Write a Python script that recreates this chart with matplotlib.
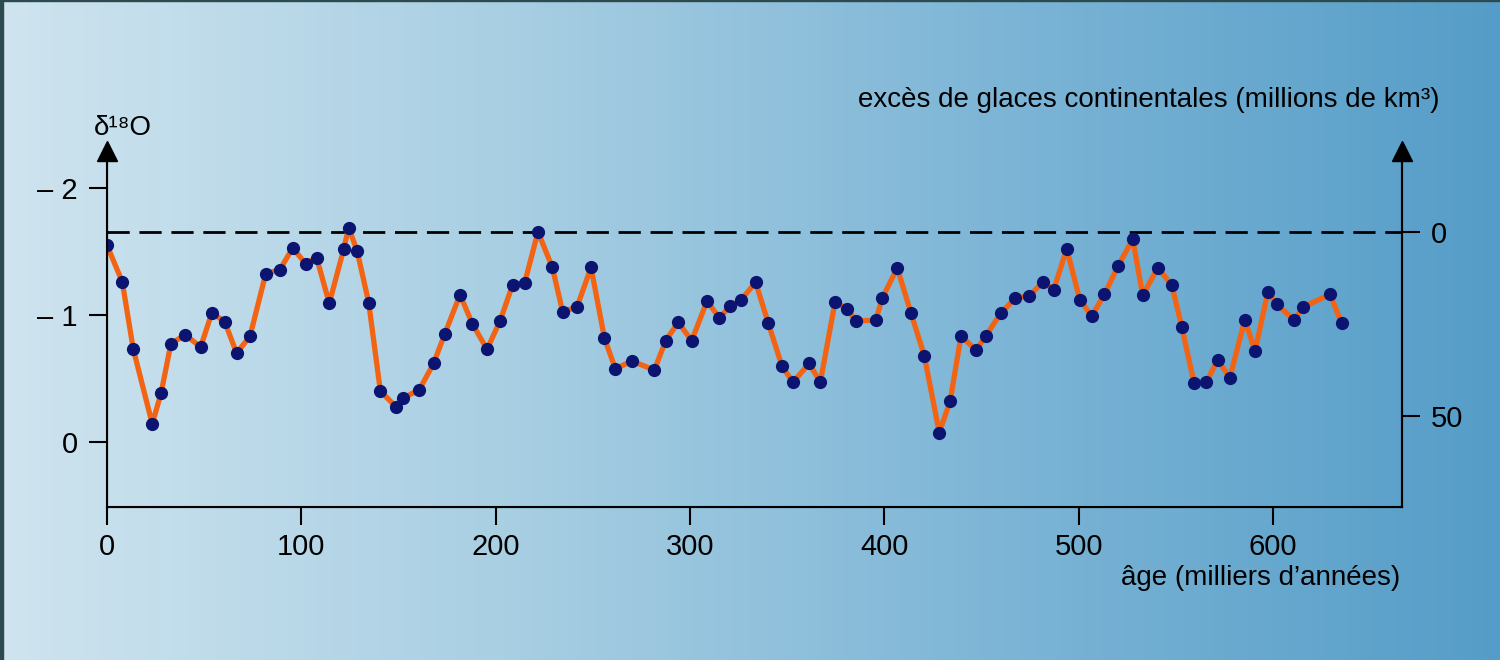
import numpy as np
import matplotlib.pyplot as plt
from matplotlib.colors import LinearSegmentedColormap

# age (thousands of years) and delta 18O values
age = [0, 7.9, 13.5, 23.3, 27.9, 32.9, 40.3, 48.2, 54.0, 60.6, 66.7, 73.6,
       81.7, 89.0, 95.6, 102.2, 107.9, 114.4, 121.8, 124.4, 128.8, 134.7,
       140.7, 148.9, 152.3, 160.7, 168.1, 173.8, 181.7, 188.0, 195.6, 202.3,
       208.8, 215.0, 221.8, 229.2, 234.5, 241.9, 249.1, 256.0, 261.6, 270.2,
       281.7, 287.5, 294.0, 300.9, 308.8, 315.2, 320.6, 326.1, 333.8, 340.3,
       347.4, 353.1, 361.3, 367.1, 374.7, 381.0, 385.3, 395.6, 399.0, 406.7,
       413.8, 420.6, 428.3, 433.9, 439.5, 447.2, 452.2, 459.9, 467.5, 474.7,
       481.7, 487.2, 493.9, 500.6, 506.8, 513.3, 520.3, 527.9, 533.0, 540.7,
       547.9, 553.1, 559.4, 565.8, 571.6, 577.8, 585.5, 590.8, 597.4, 601.9,
       610.9, 615.7, 629.4, 635.3]
d18o = [-1.55, -1.26, -0.735, -0.144, -0.388, -0.774, -0.845, -0.748, -1.018,
        -0.947, -0.701, -0.832, -1.325, -1.357, -1.528, -1.404, -1.451, -1.092,
        -1.517, -1.688, -1.501, -1.097, -0.402, -0.276, -0.346, -0.412, -0.619,
        -0.850, -1.160, -0.932, -0.730, -0.955, -1.239, -1.255, -1.654, -1.375,
        -1.026, -1.063, -1.375, -0.819, -0.577, -0.638, -0.567, -0.798, -0.942,
        -0.798, -1.110, -0.976, -1.071, -1.115, -1.257, -0.937, -0.596, -0.472,
        -0.619, -0.472, -1.105, -1.045, -0.955, -0.958, -1.134, -1.370, -1.013,
        -0.680, -0.076, -0.323, -0.835, -0.724, -0.835, -1.013, -1.134, -1.150,
        -1.262, -1.199, -1.522, -1.121, -0.992, -1.163, -1.386, -1.596, -1.155,
        -1.370, -1.239, -0.908, -0.467, -0.472, -0.648, -0.506, -0.961, -0.719,
        -1.181, -1.087, -0.961, -1.063, -1.163, -0.937]

ref_level = -1.654          # dashed line = 0 km3 of excess ice
ice_per_unit = 34.62        # km3 (millions) per unit of delta 18O

left_ticks = [-2, -1, 0]
left_labels = ['\u2013 2', '\u2013 1', '0']
right_ticks = [0, 50]
x_ticks = [0, 100, 200, 300, 400, 500, 600]

plt.rcParams['font.family'] = ['Liberation Sans Narrow', 'Liberation Sans', 'DejaVu Sans']
fs = 21
fs_text = 20

fig = plt.figure(figsize=(15, 6.6), dpi=100)

# background gradient
bg = fig.add_axes([0, 0, 1, 1], zorder=-10)
cmap = LinearSegmentedColormap.from_list('bg', ['#cfe4ef', '#a9cfe3', '#7db5d6', '#559dc8'])
bg.imshow(np.linspace(0, 1, 256).reshape(1, -1), cmap=cmap, aspect='auto', extent=[0, 1, 0, 1])
bg.axvspan(0, 0.002, color='#2d4a4f')
bg.axhspan(0.9985, 1, color='#2d4a4f')
bg.set_xlim(0, 1)
bg.set_ylim(0, 1)
bg.axis('off')

ax = fig.add_axes([0.0713, 0.2318, 0.8632, 0.5394])
ax.patch.set_alpha(0)
ymin, ymax = 0.51, -2.29
ax.set_xlim(0, 666.3)
ax.set_ylim(ymin, ymax)

ax.axhline(ref_level, color='black', lw=2, dashes=(8, 3.5), zorder=1)
ax.plot(age, d18o, color='#f26414', lw=3.8, zorder=2)
ax.plot(age, d18o, 'o', color='#0b1470', ms=8.5, zorder=3)

ax.spines['top'].set_visible(False)
for s in ['left', 'right', 'bottom']:
    ax.spines[s].set_linewidth(1.5)
ax.set_yticks(left_ticks)
ax.set_yticklabels(left_labels)
ax.set_xticks(x_ticks)
ax.tick_params(labelsize=fs, length=13, width=1.5, pad=6)
ax.tick_params(axis='y', pad=8)

ax2 = ax.twinx()
ax2.set_ylim((ymin - ref_level) * ice_per_unit, (ymax - ref_level) * ice_per_unit)
ax2.set_yticks(right_ticks)
ax2.spines['top'].set_visible(False)
ax2.spines['right'].set_linewidth(1.5)
ax2.tick_params(labelsize=fs, length=13, width=1.5, pad=8)

# arrow heads on vertical axes
ax.plot([0, 1], [1, 1], '^', color='black', ms=14, transform=ax.transAxes, clip_on=False)

fig.text(123 / 1500, 1 - 128 / 660, '\u03b4\u00b9\u2078O', fontsize=fs_text, ha='center', va='center')
fig.text(1440 / 1500, 1 - 100 / 660, 'exc\u00e8s de glaces continentales (millions de km\u00b3)',
         fontsize=fs_text, ha='right', va='center')
fig.text(1400 / 1500, 1 - 578 / 660, '\u00e2ge (milliers d\u2019ann\u00e9es)',
         fontsize=fs_text, ha='right', va='center')

fig.savefig('out.png', dpi=100)
